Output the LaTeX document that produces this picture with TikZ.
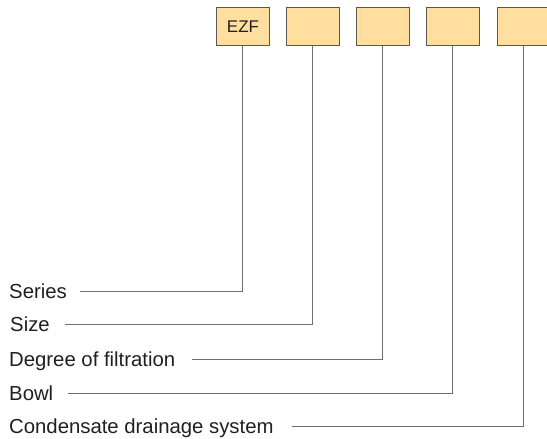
\documentclass[tikz,border=0pt]{standalone}
\usepackage{fontspec}
\setmainfont{Liberation Sans}
\usetikzlibrary{positioning}
\definecolor{boxfill}{HTML}{FFDE9F}
\definecolor{boxline}{HTML}{5A5650}
\definecolor{leadline}{HTML}{6E6E6E}
\definecolor{labeltext}{HTML}{231F20}
\begin{document}
\begin{tikzpicture}[x=1bp,y=-1bp]
    \tikzstyle{codebox}=[draw=boxline,fill=boxfill,line width=0.9bp,minimum width=53bp,minimum height=38bp,inner sep=0pt,font=\fontsize{17}{19}\selectfont,text=labeltext]
    \tikzstyle{partlabel}=[anchor=west,inner sep=0pt,text height=14.5bp,text depth=0pt,font=\fontsize{20.4}{22}\selectfont,text=labeltext]
    \tikzstyle{lead}=[draw=leadline,line width=1bp]
    \useasboundingbox (0,0) rectangle (547,439);

    \node[codebox,anchor=north west] (series box) at (216,7) {EZF};
    \node[codebox,right=16bp of series box] (size box) {};
    \node[codebox,right=16bp of size box] (filter box) {};
    \node[codebox,right=16bp of filter box] (bowl box) {};
    \node[codebox,right=17bp of bowl box] (drain box) {};

    \node[partlabel] (series) at (9,291) {Series};
    \node[partlabel] (size) at (10,324) {Size};
    \node[partlabel] (filter) at (9,359) {Degree of filtration};
    \node[partlabel] (bowl) at (9,393) {Bowl};
    \node[partlabel] (drain) at (9,426) {Condensate drainage system};

    \draw[lead] ([xshift=13bp]series.east) -| (series box.south);
    \draw[lead] ([xshift=15bp]size.east) -| (size box.south);
    \draw[lead] ([xshift=17bp]filter.east) -| (filter box.south);
    \draw[lead] ([xshift=15bp]bowl.east) -| (bowl box.south);
    \draw[lead] ([xshift=18bp]drain.east) -| (drain box.south);
\end{tikzpicture}
\end{document}
